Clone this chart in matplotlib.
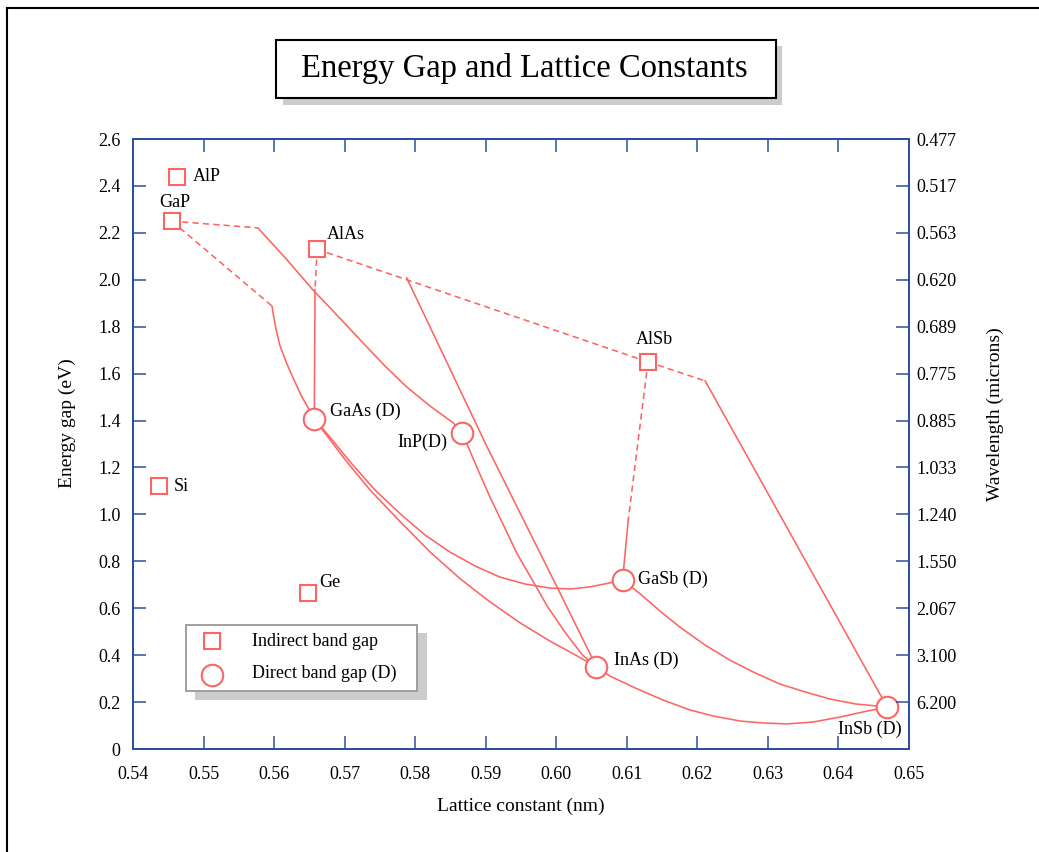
import matplotlib
matplotlib.use("Agg")
import matplotlib.pyplot as plt
from matplotlib.patches import Rectangle
from matplotlib.lines import Line2D
import numpy as np

plt.rcParams['font.family'] = ['Liberation Serif', 'DejaVu Serif']

# ---- data (lattice constant in nm, energy gap in eV) ----
indirect_names = ["AlP", "GaP", "AlAs", "AlSb", "Si", "Ge"]
indirect_a = [0.5462, 0.5455, 0.5661, 0.6130, 0.5437, 0.5648]
indirect_eg = [2.44, 2.25, 2.13, 1.65, 1.12, 0.667]

direct_names = ["GaAs (D)", "InP(D)", "GaSb (D)", "InAs (D)", "InSb (D)"]
direct_a = [0.5657, 0.5867, 0.6094, 0.6057, 0.6469]
direct_eg = [1.407, 1.345, 0.720, 0.350, 0.179]

# ternary curves: indirect (dashed) and direct (solid) parts
gainp_ind_a = [0.5455, 0.5577]
gainp_ind_eg = [2.25, 2.221]
gainp_dir_a = [0.5577, 0.5616, 0.5655, 0.5693, 0.5726, 0.5757, 0.5788, 0.5821, 0.5854, 0.5867]
gainp_dir_eg = [2.221, 2.093, 1.957, 1.837, 1.731, 1.633, 1.543, 1.462, 1.390, 1.345]

gaasp_ind_a = [0.5455, 0.5597]
gaasp_ind_eg = [2.25, 1.888]
gaasp_dir_a = [0.5597, 0.5599, 0.5603, 0.5608, 0.5617, 0.5627, 0.5638, 0.5650, 0.5657]
gaasp_dir_eg = [1.888, 1.850, 1.786, 1.722, 1.650, 1.581, 1.509, 1.445, 1.407]

algaas_ind_a = [0.5661, 0.5658]
algaas_ind_eg = [2.13, 1.957]
algaas_dir_a = [0.5658, 0.5657]
algaas_dir_eg = [1.957, 1.407]

alassb_a = [0.5661, 0.6130]
alassb_eg = [2.13, 1.65]

alinas_dir_a = [0.5788, 0.5902, 0.6001, 0.6057]
alinas_dir_eg = [2.008, 1.287, 0.691, 0.350]

inasp_a = [0.5867, 0.5874, 0.5889, 0.5906, 0.5925, 0.5944, 0.5966, 0.5988, 0.6012, 0.6037, 0.6057]
inasp_eg = [1.345, 1.296, 1.190, 1.074, 0.955, 0.835, 0.720, 0.605, 0.499, 0.401, 0.350]

gaassb_a = [0.5657, 0.5679, 0.5708, 0.5743, 0.5779, 0.5814, 0.5849, 0.5885, 0.5920,
            0.5956, 0.5991, 0.6020, 0.6048, 0.6076, 0.6094]
gaassb_eg = [1.407, 1.330, 1.223, 1.104, 1.002, 0.912, 0.840, 0.780, 0.733,
             0.703, 0.686, 0.682, 0.691, 0.708, 0.720]

ingaas_a = [0.5657, 0.5672, 0.5701, 0.5736, 0.5779, 0.5821, 0.5864, 0.5906, 0.5949,
            0.5991, 0.6027, 0.6057]
ingaas_eg = [1.407, 1.347, 1.232, 1.104, 0.968, 0.840, 0.725, 0.627, 0.537,
             0.460, 0.401, 0.350]

gainsb_a = [0.6094, 0.6119, 0.6147, 0.6175, 0.6211, 0.6246, 0.6282, 0.6317, 0.6353,
            0.6388, 0.6424, 0.6469]
gainsb_eg = [0.720, 0.661, 0.588, 0.520, 0.443, 0.379, 0.324, 0.277, 0.243,
             0.213, 0.192, 0.179]

inassb_a = [0.6057, 0.6076, 0.6112, 0.6151, 0.6190, 0.6222, 0.6261, 0.6293, 0.6327,
            0.6364, 0.6402, 0.6435, 0.6469]
inassb_eg = [0.350, 0.311, 0.260, 0.209, 0.166, 0.141, 0.119, 0.111, 0.107,
             0.115, 0.136, 0.158, 0.179]

alinsb_ind_a = [0.6130, 0.6211]
alinsb_ind_eg = [1.65, 1.569]
alinsb_dir_a = [0.6211, 0.6469]
alinsb_dir_eg = [1.569, 0.179]

algasb_ind_a = [0.6130, 0.6102]
algasb_ind_eg = [1.65, 0.976]
algasb_dir_a = [0.6102, 0.6094]
algasb_dir_eg = [0.976, 0.720]

x_ticks = [0.54, 0.55, 0.56, 0.57, 0.58, 0.59, 0.60, 0.61, 0.62, 0.63, 0.64, 0.65]
y_ticks = [0, 0.2, 0.4, 0.6, 0.8, 1.0, 1.2, 1.4, 1.6, 1.8, 2.0, 2.2, 2.4, 2.6]
wl_ticks = [0.2, 0.4, 0.6, 0.8, 1.0, 1.2, 1.4, 1.6, 1.8, 2.0, 2.2, 2.4, 2.6]
wl_labels = ["6.200", "3.100", "2.067", "1.550", "1.240", "1.033", "0.885",
             "0.775", "0.689", "0.620", "0.563", "0.517", "0.477"]

RED = "#ff6464"
BLUE = "#2c4f9e"
W, H = 1039, 852


def fx(px):
    return px / W


def fy(py):
    return 1 - py / H


fig = plt.figure(figsize=(W / 100, H / 100), dpi=100)
ax = fig.add_axes([fx(133), fy(749), (909 - 133) / W, (749 - 139) / H])

dash = (0, (3.9, 2.6))
lw = 1.15
dashed = [(gainp_ind_a, gainp_ind_eg), (gaasp_ind_a, gaasp_ind_eg),
          (algaas_ind_a, algaas_ind_eg), (alassb_a, alassb_eg),
          (alinsb_ind_a, alinsb_ind_eg), (algasb_ind_a, algasb_ind_eg)]
solid = [(gainp_dir_a, gainp_dir_eg), (gaasp_dir_a, gaasp_dir_eg),
         (algaas_dir_a, algaas_dir_eg), (alinas_dir_a, alinas_dir_eg),
         (inasp_a, inasp_eg), (gaassb_a, gaassb_eg), (ingaas_a, ingaas_eg),
         (gainsb_a, gainsb_eg), (inassb_a, inassb_eg),
         (alinsb_dir_a, alinsb_dir_eg), (algasb_dir_a, algasb_dir_eg)]
for xs, ys in dashed:
    ax.plot(xs, ys, color=RED, lw=lw, linestyle=dash, zorder=2)
for xs, ys in solid:
    ax.plot(xs, ys, color=RED, lw=lw, zorder=2, solid_joinstyle='round')

ax.plot(indirect_a, indirect_eg, 's', ms=12, mfc='white', mec=RED, mew=1.5,
        zorder=4, linestyle='none')
ax.plot(direct_a, direct_eg, 'o', ms=15.5, mfc='white', mec=RED, mew=1.5,
        zorder=4, linestyle='none')

# point labels (offsets in pixels: right, up)
ind_offsets = [(16, 0, 'left'), (3, 19, 'center'), (10, 15, 'left'),
               (6, 22, 'center'), (15, 0, 'left'), (11.5, 10.5, 'left')]
dir_offsets = [(16, 8, 'left'), (-15.5, -8.5, 'right'), (15.5, 1, 'left'),
               (17.5, 7, 'left'), (-17, -22, 'center')]
for name, a, e, (dx, dy, ha) in zip(indirect_names, indirect_a, indirect_eg, ind_offsets):
    ax.annotate(name, (a, e), xytext=(dx * 0.72, dy * 0.72), textcoords='offset points',
                ha=ha, va='center', fontsize=13, zorder=5)
for name, a, e, (dx, dy, ha) in zip(direct_names, direct_a, direct_eg, dir_offsets):
    ax.annotate(name, (a, e), xytext=(dx * 0.72, dy * 0.72), textcoords='offset points',
                ha=ha, va='center', fontsize=13, zorder=5)

ax.set_xlim(0.54, 0.65)
ax.set_ylim(0, 2.6)
ax.set_xticks(x_ticks)
ax.set_xticklabels([f"{v:.2f}" for v in x_ticks])
ax.set_yticks(y_ticks)
ax.set_yticklabels(["0"] + [f"{v:.1f}" for v in y_ticks[1:]])
ax.tick_params(direction='in', length=9.5, width=1.1, color=BLUE, labelsize=13,
               top=True, right=False)
ax.tick_params(axis='x', pad=12)
ax.tick_params(axis='y', pad=9)
for s in ax.spines.values():
    s.set_color(BLUE)
    s.set_linewidth(1.3)

ax2 = ax.twinx()
ax2.set_ylim(0, 2.6)
ax2.set_yticks(wl_ticks)
ax2.set_yticklabels(wl_labels)
ax2.tick_params(direction='in', length=9.5, width=1.1, color=BLUE, labelsize=13, pad=5)
for s in ax2.spines.values():
    s.set_color(BLUE)
    s.set_linewidth(1.3)

fig.text(fx(67), fy(423), "Energy gap (eV)", rotation=90, ha='center', va='center', fontsize=14)
fig.text(fx(995), fy(414), "Wavelength (microns)", rotation=90, ha='center', va='center', fontsize=14)
fig.text(fx(521), fy(806), "Lattice constant (nm)", ha='center', va='center', fontsize=14)

# legend box with shadow (axes fraction)
def axx(px):
    return (px - 133) / 776


def axy(py):
    return (749 - py) / 610


ax.add_patch(Rectangle((axx(195), axy(700)), axx(427) - axx(195), axy(633) - axy(700),
                       transform=ax.transAxes, facecolor='#cccccc', edgecolor='none', zorder=6))
ax.add_patch(Rectangle((axx(186), axy(691)), axx(417) - axx(186), axy(625) - axy(691),
                       transform=ax.transAxes, facecolor='white', edgecolor='#999999',
                       lw=1.3, zorder=7))
ax.plot([axx(212)], [axy(641)], 's', ms=12, mfc='white', mec=RED, mew=1.5,
        transform=ax.transAxes, zorder=8)
ax.plot([axx(212)], [axy(675)], 'o', ms=15.5, mfc='white', mec=RED, mew=1.5,
        transform=ax.transAxes, zorder=8)
ax.text(axx(252), axy(642), "Indirect band gap", transform=ax.transAxes,
        ha='left', va='center', fontsize=13, zorder=8)
ax.text(axx(252), axy(673), "Direct band gap (D)", transform=ax.transAxes,
        ha='left', va='center', fontsize=13, zorder=8)

# title box with shadow
fig.add_artist(Rectangle((fx(283), fy(105)), fx(782) - fx(283), fy(46) - fy(105),
                         transform=fig.transFigure, facecolor='#cccccc', edgecolor='none', zorder=1))
fig.add_artist(Rectangle((fx(276), fy(98)), fx(776) - fx(276), fy(40) - fy(98),
                         transform=fig.transFigure, facecolor='white', edgecolor='black',
                         lw=1.5, zorder=2))
fig.text(fx(524), fy(68), "Energy Gap and Lattice Constants", ha='center', va='center',
         fontsize=23.5, zorder=3)

# outer frame (left and top edges)
fig.add_artist(Line2D([fx(7), fx(7)], [0, fy(8)], transform=fig.transFigure, color='black', lw=1.5))
fig.add_artist(Line2D([fx(7), 1], [fy(8), fy(8)], transform=fig.transFigure, color='black', lw=1.5))

fig.savefig("out.png", dpi=100)
